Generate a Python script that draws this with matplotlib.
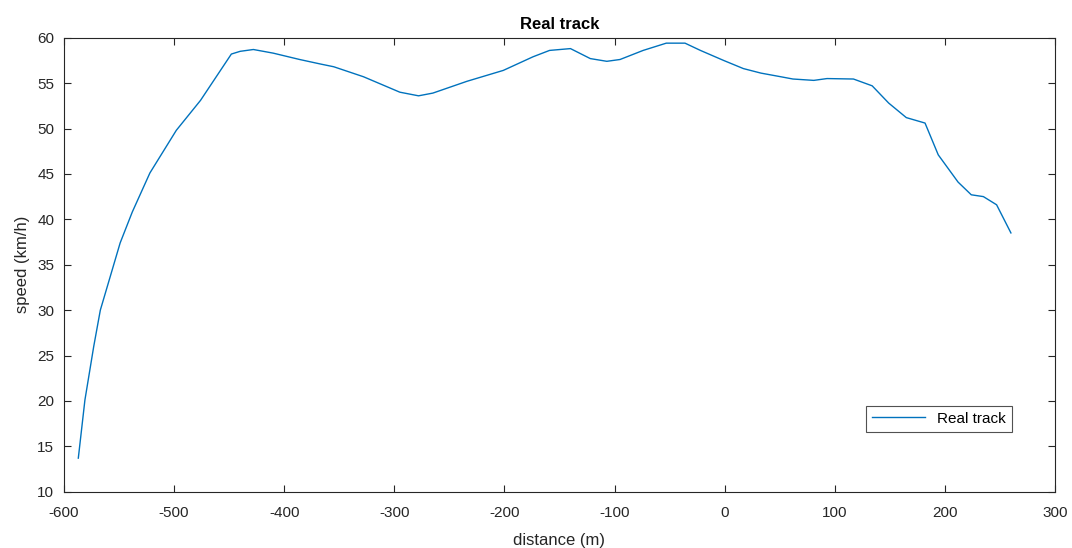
import matplotlib
matplotlib.use("Agg")
import matplotlib.pyplot as plt

plt.rcParams['font.family'] = ['Liberation Sans', 'DejaVu Sans']
plt.rcParams['axes.unicode_minus'] = False

# distance (m) and speed (km/h)
distance = [-587, -581, -573, -567, -558, -549, -538, -522, -498, -476, -448, -440,
            -428, -410, -386, -367, -355, -328, -295, -278, -265, -234, -201, -174,
            -159, -140, -122, -107, -95, -74, -53, -36, -22, -1, 17, 33, 51, 62, 81,
            93, 117, 134, 149, 165, 182, 194, 212, 224, 235, 247, 260]
speed = [13.7, 20.1, 26.0, 30.0, 33.7, 37.4, 40.8, 45.1, 49.8, 53.1, 58.2, 58.5,
         58.7, 58.3, 57.6, 57.1, 56.8, 55.7, 54.0, 53.6, 53.9, 55.2, 56.4, 57.9,
         58.6, 58.8, 57.7, 57.4, 57.6, 58.6, 59.4, 59.4, 58.6, 57.5, 56.6, 56.1,
         55.7, 55.45, 55.3, 55.5, 55.45, 54.7, 52.8, 51.2, 50.6, 47.1, 44.1, 42.7,
         42.5, 41.6, 38.5]

fig = plt.figure(figsize=(10.72, 5.48), dpi=100)
ax = fig.add_axes([0.0597, 0.1027, 0.9244, 0.8285])

ax.plot(distance, speed, color='#0072BD', linewidth=1.0, label='Real track')

ax.set_xlim(-600, 300)
ax.set_ylim(10, 60)
ax.set_xticks(range(-600, 301, 100))
ax.set_yticks(range(10, 61, 5))

axis_col = '#262626'
for s in ax.spines.values():
    s.set_color(axis_col)
    s.set_linewidth(0.8)
ax.tick_params(direction='in', top=True, right=True, length=5, width=0.8,
               colors=axis_col, labelsize=11, labelcolor=axis_col)
ax.tick_params(axis='x', pad=10)
ax.tick_params(axis='y', pad=7)

ax.set_title('Real track', fontsize=12, fontweight='bold', color='black', pad=6)
ax.set_xlabel('distance (m)', fontsize=12, color=axis_col, labelpad=10)
ax.set_ylabel('speed (km/h)', fontsize=12, color=axis_col, labelpad=5)

leg = ax.legend(loc='lower right', bbox_to_anchor=(0.957, 0.132), borderaxespad=0,
                fancybox=False, fontsize=11, handlelength=3.5, frameon=True)
leg.get_frame().set_edgecolor(axis_col)
leg.get_frame().set_linewidth(0.8)

fig.savefig('out.png', dpi=100)
